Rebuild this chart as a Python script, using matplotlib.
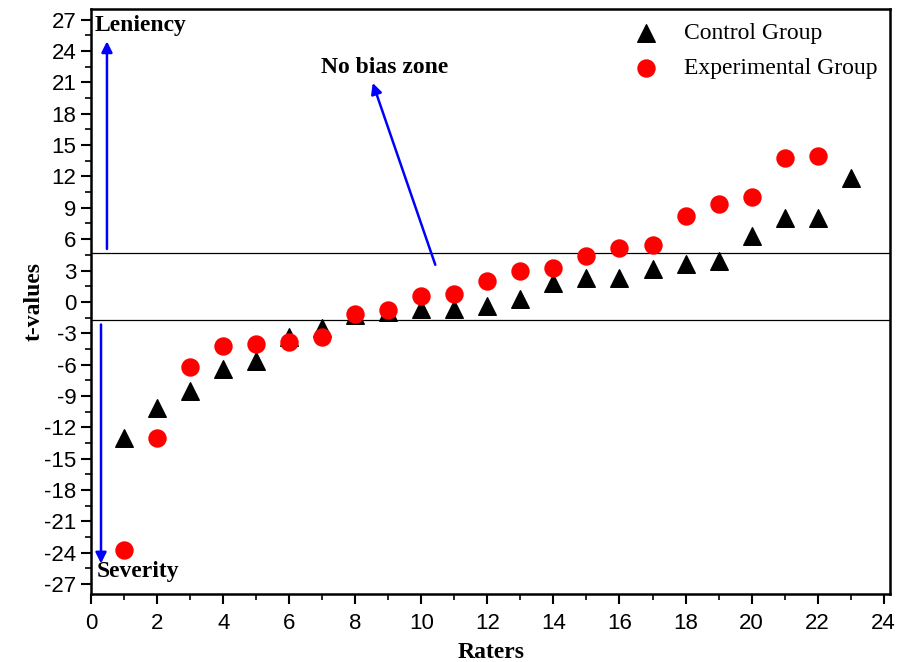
import numpy as np
import matplotlib.pyplot as plt
from matplotlib.ticker import MultipleLocator

raters_control = list(range(1, 24))
control = [-13.0, -10.2, -8.5, -6.4, -5.7, -3.4, -2.5, -1.3, -1.0, -0.7, -0.7, -0.4,
           0.3, 1.8, 2.3, 2.3, 3.1, 3.6, 3.9, 6.3, 8.0, 8.0, 11.9]
raters_exp = list(range(1, 23))
experimental = [-23.7, -13.0, -6.2, -4.2, -4.0, -3.8, -3.4, -1.2, -0.8, 0.6, 0.8, 2.0,
                3.0, 3.2, 4.4, 5.2, 5.4, 8.2, 9.4, 10.0, 13.8, 14.0]
upper_limit = 4.7
lower_limit = -1.7

serif = ['Liberation Serif', 'DejaVu Serif']
sans = ['Liberation Sans', 'DejaVu Sans']


def main():
    plt.rcParams['axes.unicode_minus'] = False
    fig = plt.figure(figsize=(9.02, 6.62), dpi=100)
    ax = fig.add_axes([0.101, 0.102, 0.886, 0.884])

    ax.scatter(raters_control, control, marker='^', s=160, color='black',
               label='Control Group', zorder=3)
    ax.scatter(raters_exp, experimental, marker='o', s=150, color='red',
               label='Experimental Group', zorder=4)

    ax.axhline(upper_limit, color='black', linewidth=0.9, zorder=1)
    ax.axhline(lower_limit, color='black', linewidth=0.9, zorder=1)

    # arrows and annotations
    ax.annotate('', xy=(0.48, 25.2), xytext=(0.48, 4.8),
                arrowprops=dict(arrowstyle='-|>', color='blue', lw=1.8, mutation_scale=16))
    ax.annotate('', xy=(0.3, -25.3), xytext=(0.3, -1.9),
                arrowprops=dict(arrowstyle='-|>', color='blue', lw=1.8, mutation_scale=16))
    ax.annotate('', xy=(8.5, 21.2), xytext=(10.45, 3.3),
                arrowprops=dict(arrowstyle='-|>', color='blue', lw=1.8, mutation_scale=16))
    ax.text(0.12, 26.4, 'Leniency', fontsize=17, fontweight='bold', family=serif, va='center')
    ax.text(0.18, -25.8, 'Severity', fontsize=17, fontweight='bold', family=serif, va='center')
    ax.text(6.95, 22.4, 'No bias zone', fontsize=17, fontweight='bold', family=serif, va='center')

    ax.set_xlim(0, 24.2)
    ax.set_ylim(-28, 28)
    ax.xaxis.set_major_locator(MultipleLocator(2))
    ax.xaxis.set_minor_locator(MultipleLocator(1))
    ax.yaxis.set_major_locator(MultipleLocator(3))
    ax.yaxis.set_minor_locator(MultipleLocator(1.5))
    ax.tick_params(which='major', direction='out', length=7, width=1.5, labelsize=16)
    ax.tick_params(axis='x', which='major', pad=6)
    ax.tick_params(which='minor', direction='out', length=4, width=1.2)
    for lab in ax.get_xticklabels() + ax.get_yticklabels():
        lab.set_family(sans)
    for sp in ax.spines.values():
        sp.set_linewidth(1.8)

    ax.set_xlabel('Raters', fontsize=17, fontweight='bold', family=serif, labelpad=6)
    ax.set_ylabel('t-values', fontsize=17, fontweight='bold', family=serif, labelpad=0)

    ax.legend(loc='upper right', frameon=False, prop={'family': serif, 'size': 17},
              handletextpad=0.6, borderaxespad=0.15, labelspacing=0.6)

    plt.savefig('out.png')


if __name__ == "__main__":
    main()
